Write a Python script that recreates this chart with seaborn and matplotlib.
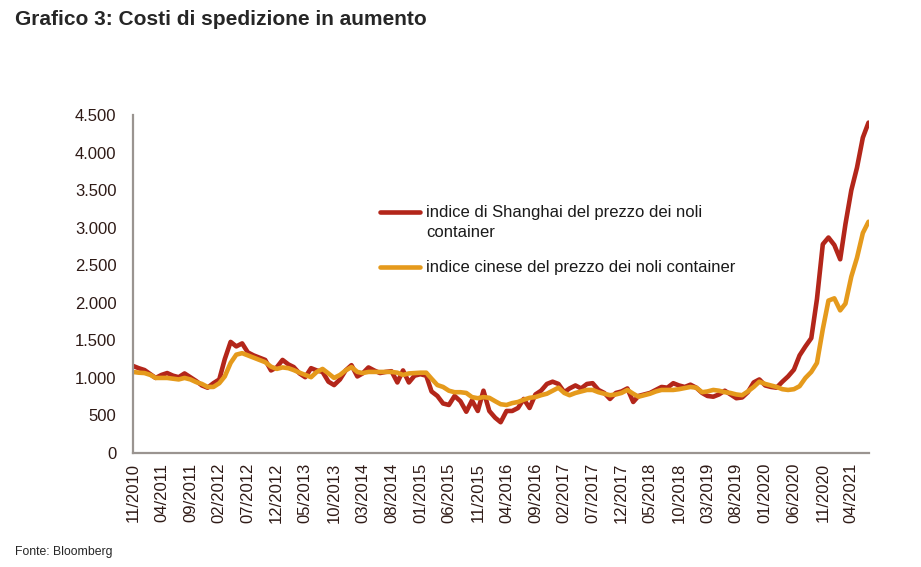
import pandas as pd
import matplotlib.pyplot as plt
import matplotlib.ticker as mticker
from matplotlib.lines import Line2D
import seaborn as sns

sns.set_style("white")
plt.rcParams['font.family'] = ['Liberation Sans', 'DejaVu Sans']

# Monthly values, 11/2010 - 07/2021
shanghai = [1160, 1130, 1105, 1050, 1000, 1040, 1065, 1030, 1010, 1060,
            1010, 960, 900, 870, 930, 980, 1250, 1480, 1420, 1460,
            1340, 1300, 1270, 1240, 1100, 1140, 1240, 1180, 1145, 1060,
            1010, 1130, 1100, 1080, 950, 905, 980, 1100, 1170, 1020,
            1060, 1140, 1100, 1065, 1080, 1090, 940, 1100, 940, 1030,
            1050, 1030, 820, 760, 660, 640, 760, 690, 550, 700,
            560, 830, 560, 470, 410, 560, 560, 600, 720, 600,
            780, 830, 920, 950, 920, 810, 860, 900, 860, 920,
            930, 840, 800, 720, 800, 820, 860, 680, 760, 780,
            800, 840, 880, 870, 930, 900, 880, 910, 870, 800,
            760, 750, 780, 830, 780, 730, 740, 810, 940, 980,
            900, 880, 870, 950, 1020, 1110, 1300, 1420, 1530, 2050,
            2780, 2870, 2770, 2580, 3050, 3500, 3800, 4200, 4400]

cinese = [1080, 1070, 1065, 1040, 1000, 1000, 1000, 990, 980, 1000,
          980, 945, 920, 880, 880, 930, 1020, 1200, 1310, 1330,
          1300, 1270, 1240, 1210, 1150, 1120, 1140, 1130, 1105, 1070,
          1040, 1010, 1080, 1120, 1060, 1000, 1040, 1100, 1145, 1080,
          1065, 1080, 1080, 1080, 1080, 1080, 1070, 1040, 1060, 1065,
          1070, 1070, 990, 905, 880, 830, 810, 810, 800, 745,
          730, 745, 735, 690, 650, 640, 665, 680, 710, 735,
          745, 770, 790, 830, 870, 800, 770, 800, 820, 840,
          840, 810, 790, 770, 780, 800, 840, 790, 750, 770,
          790, 820, 840, 840, 840, 850, 865, 880, 870, 810,
          820, 840, 830, 810, 800, 780, 770, 820, 880, 950,
          920, 900, 880, 850, 840, 850, 890, 1000, 1080, 1200,
          1650, 2030, 2060, 1900, 1990, 2350, 2600, 2930, 3080]

dates = pd.date_range("2010-11-01", periods=len(shanghai), freq="MS")
labels = ["indice di Shanghai del prezzo dei noli\ncontainer",
          "indice cinese del prezzo dei noli container"]
colors = ["#B3261A", "#E59A1C"]

df = pd.DataFrame({"data": list(dates) * 2,
                   "valore": shanghai + cinese,
                   "serie": [labels[0]] * len(shanghai) + [labels[1]] * len(cinese)})

fig = plt.figure(figsize=(9.21, 5.67), dpi=100)
ax = fig.add_axes([0.1444, 0.201, 0.7986, 0.596])

sns.lineplot(data=df, x="data", y="valore", hue="serie", hue_order=labels,
             palette=colors, linewidth=3.3, legend=False, ax=ax)

ax.set_xlim(dates[0], dates[-1])
ax.set_ylim(0, 4500)
ax.set_yticks(range(0, 4501, 500))
ax.yaxis.set_major_formatter(mticker.FuncFormatter(lambda v, p: f"{int(v):,}".replace(",", ".")))
tick_dates = dates[::5]
ax.set_xticks(tick_dates)
ax.set_xticklabels([d.strftime("%m/%Y") for d in tick_dates], rotation=90)
ax.set_xlabel("")
ax.set_ylabel("")
ax.tick_params(axis="y", length=0, pad=12, labelsize=12, colors="#2e1a16")
ax.tick_params(axis="x", length=0, pad=7, labelsize=12, colors="#2e1a16")

for s in ["top", "right"]:
    ax.spines[s].set_visible(False)
for s in ["left", "bottom"]:
    ax.spines[s].set_color("#9a9490")
    ax.spines[s].set_linewidth(1.6)

# legend drawn by hand so the line sits on the first text row
ax.add_line(Line2D([0.336, 0.390], [0.713, 0.713], transform=ax.transAxes,
                   color=colors[0], lw=3.3, solid_capstyle="round"))
ax.text(0.399, 0.713, "indice di Shanghai del prezzo dei noli", transform=ax.transAxes,
        fontsize=12, va="center", ha="left", color="#1a1a1a")
ax.text(0.399, 0.654, "container", transform=ax.transAxes,
        fontsize=12, va="center", ha="left", color="#1a1a1a")
ax.add_line(Line2D([0.336, 0.390], [0.550, 0.550], transform=ax.transAxes,
                   color=colors[1], lw=3.3, solid_capstyle="round"))
ax.text(0.399, 0.550, labels[1], transform=ax.transAxes,
        fontsize=12, va="center", ha="left", color="#1a1a1a")

fig.text(0.016, 0.966, "Grafico 3: Costi di spedizione in aumento", fontsize=15,
         fontweight="bold", va="center", ha="left")
fig.text(0.016, 0.026, "Fonte: Bloomberg", fontsize=8.8, va="center", ha="left")

fig.savefig("out.png", dpi=100)
